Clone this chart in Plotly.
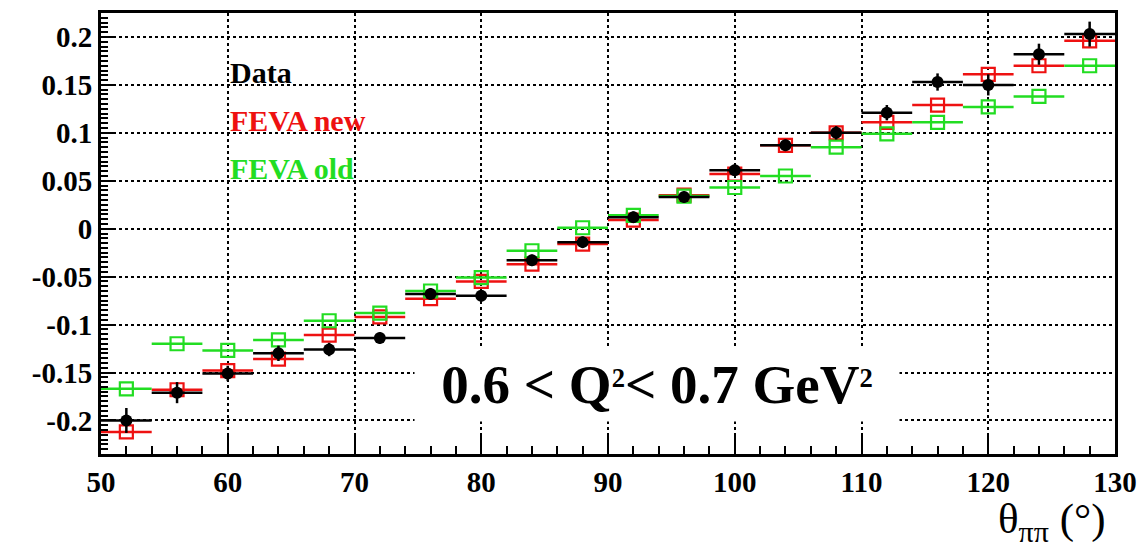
import plotly.graph_objects as go

# Bin centres in theta_pipi (degrees); each bin is 4 degrees wide
theta = [52, 56, 60, 64, 68, 72, 76, 80, 84, 88, 92, 96, 100, 104, 108, 112, 116, 120, 124, 128]
bin_half_width = [2] * len(theta)

# Measured asymmetry and its statistical uncertainty
data_val = [-0.200, -0.171, -0.151, -0.130, -0.126, -0.114, -0.068, -0.070, -0.033, -0.014,
            0.012, 0.033, 0.061, 0.087, 0.100, 0.121, 0.153, 0.150, 0.182, 0.203]
data_err = [0.013, 0.011, 0.008, 0.008, 0.007, 0.006, 0.006, 0.006, 0.006, 0.006,
            0.006, 0.006, 0.006, 0.006, 0.007, 0.008, 0.009, 0.011, 0.011, 0.013]

# Model predictions
feva_new = [-0.212, -0.168, -0.148, -0.136, -0.111, -0.092, -0.073, -0.055, -0.037, -0.016,
            0.009, 0.035, 0.057, 0.087, 0.100, 0.111, 0.129, 0.161, 0.170, 0.196]
feva_old = [-0.167, -0.120, -0.127, -0.116, -0.096, -0.088, -0.065, -0.051, -0.023, 0.001,
            0.014, 0.034, 0.043, 0.055, 0.085, 0.099, 0.111, 0.127, 0.138, 0.170]

# Axis ticks
x_ticks = [50, 60, 70, 80, 90, 100, 110, 120, 130]
x_tick_text = ["50", "60", "70", "80", "90", "100", "110", "120", "130"]
y_ticks = [-0.2, -0.15, -0.1, -0.05, 0, 0.05, 0.1, 0.15, 0.2]
y_tick_text = ["-0.2", "-0.15", "-0.1", "-0.05", "0", "0.05", "0.1", "0.15", "0.2"]

RED = "#ee1111"
GREEN = "#22dd22"
SERIF = "Liberation Serif"

fig = go.Figure()

fig.add_trace(go.Scatter(
    x=theta, y=feva_new, mode="markers", name="FEVA new", showlegend=False,
    marker=dict(symbol="square-open", size=13, color=RED, line=dict(width=2.2, color=RED)),
    error_x=dict(type="data", array=bin_half_width, color=RED, thickness=2.5, width=0),
))
fig.add_trace(go.Scatter(
    x=theta, y=feva_old, mode="markers", name="FEVA old", showlegend=False,
    marker=dict(symbol="square-open", size=13, color=GREEN, line=dict(width=2.2, color=GREEN)),
    error_x=dict(type="data", array=bin_half_width, color=GREEN, thickness=2.5, width=0),
))
fig.add_trace(go.Scatter(
    x=theta, y=data_val, mode="markers", name="Data", showlegend=False,
    marker=dict(symbol="circle", size=12, color="black"),
    error_x=dict(type="data", array=bin_half_width, color="black", thickness=2.5, width=0),
    error_y=dict(type="data", array=data_err, color="black", thickness=2.5, width=0),
))

# Text legend
legend_items = [("Data", "black", 0.163), ("FEVA new", RED, 0.113), ("FEVA old", GREEN, 0.063)]
for label, col, yv in legend_items:
    fig.add_annotation(
        x=60, y=yv, xref="x", yref="y", text=label, showarrow=False,
        xanchor="left", yanchor="middle",
        font=dict(family=SERIF, size=30, color=col, weight="bold"),
    )

# Kinematic bin label
sq = '<span style="font-size:38px"><sup>2</sup></span>'
fig.add_annotation(
    x=93.9, y=-0.162, xref="x", yref="y",
    text=f"0.6 < Q{sq}< 0.7 GeV{sq}", showarrow=False,
    xanchor="center", yanchor="middle", bgcolor="white", width=482, height=72,
    font=dict(family=SERIF, size=55, color="black", weight="bold"),
)

# Axis title at lower right
fig.add_annotation(
    x=0.993, y=-0.152, xref="paper", yref="paper",
    text='θ<sub><span style="font-size:30px">ππ</span></sub> (°)', showarrow=False,
    xanchor="right", yanchor="middle",
    font=dict(family=SERIF, size=43, color="black"),
)

axis_common = dict(
    showline=True, linecolor="black", linewidth=3, mirror=True,
    showgrid=True, gridcolor="black", gridwidth=2, griddash="dot",
    zeroline=False, ticks="inside", tickcolor="black", tickwidth=2,
    tickfont=dict(family=SERIF, size=29, color="black", weight="bold"),
)

fig.update_xaxes(
    range=[50, 130], tickmode="array", tickvals=x_ticks, ticktext=x_tick_text,
    ticklen=19,
    minor=dict(dtick=2, ticks="inside", ticklen=8, tickcolor="black", tickwidth=2, showgrid=False),
    **axis_common,
)
fig.update_yaxes(
    range=[-0.235, 0.225], tickmode="array", tickvals=y_ticks, ticktext=y_tick_text,
    ticklen=14,
    minor=dict(dtick=0.005, tick0=0, ticks="inside", ticklen=7, tickcolor="black", tickwidth=2, showgrid=False),
    **axis_common,
)

fig.update_layout(
    width=1147, height=553,
    margin=dict(l=101, r=26, t=10, b=99),
    paper_bgcolor="white", plot_bgcolor="white",
)

fig.write_html("out.html")
